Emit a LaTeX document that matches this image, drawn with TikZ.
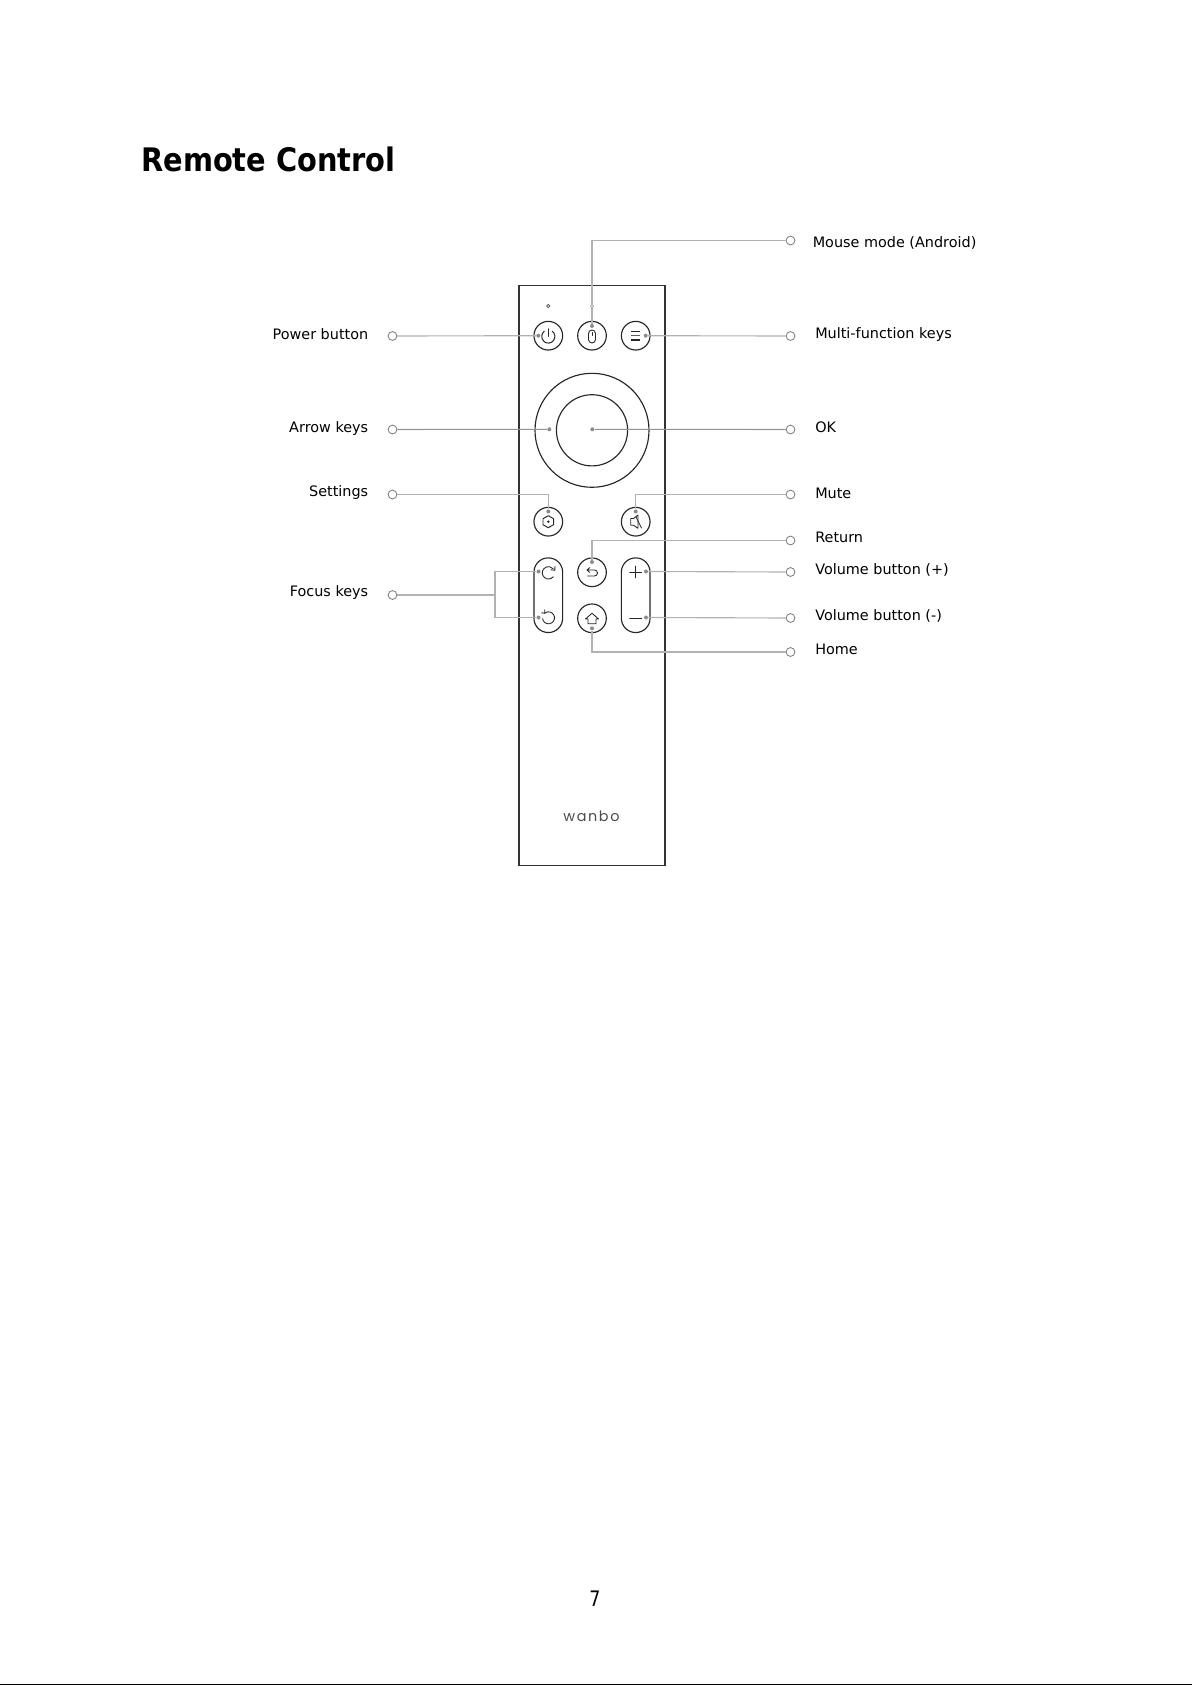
\documentclass[tikz,border=0pt]{standalone}
\usepackage{fontspec}
\usepackage{graphicx}
\setmainfont{DejaVu Sans}
\newfontfamily\logofont[LetterSpace=11]{Poppins}
\definecolor{menured}{HTML}{8A4A50}
\tikzset{
  x=0.75pt,y=-0.75pt,
  outline/.style={draw=black!85,line width=0.85pt,fill=none},
  leader/.style={draw=black!30,line width=0.85pt},
  leaderdark/.style={draw=black!42,line width=0.8pt},
  endring/.style={circle,draw=black!50,fill=white,line width=0.65pt,minimum size=6.6pt,inner sep=0pt},
  anchordot/.style={circle,fill=black!45,minimum size=3pt,inner sep=0pt},
  keybtn/.style={circle,draw=black!85,line width=0.85pt,minimum size=21.5pt,inner sep=0pt},
  icon/.style={draw=black!85,line width=0.65pt,line cap=round,line join=round},
  lbl/.style={font=\fontsize{10.8}{13}\selectfont,inner sep=0pt,text=black},
}
\begin{document}
\begin{tikzpicture}
\useasboundingbox (0,0) rectangle (1192,1685);
\fill[white] (0,0) rectangle (1192,1685);
\node[anchor=west,inner sep=0pt,font=\fontsize{24.3}{28}\selectfont\bfseries] (title) at (141,159.5) {\scalebox{0.89}[1]{Remote Control}};
% body
\node[draw=black!80,line width=1pt,minimum width=109.5pt,minimum height=435pt,inner sep=0pt,anchor=north west] (body) at (518.2,285) {};
% LEDs
\node[circle,draw=black!70,line width=0.5pt,minimum size=2.4pt,inner sep=0pt] (led) at (548.3,306) {};
\node[circle,draw=black!40,line width=0.5pt,minimum size=2.4pt,inner sep=0pt] (ledb) at (592,306) {};
% buttons
\node[keybtn] (power) at (548.3,335.7) {};
\node[keybtn] (mouse) at (592,335.7) {};
\node[keybtn] (menu) at (635.7,335.7) {};
\node[keybtn] (settings) at (548.3,521.7) {};
\node[keybtn] (mute) at (635.7,521.7) {};
\node[keybtn] (return) at (592,572.3) {};
\node[keybtn] (home) at (592,618.3) {};
\node[circle,outline,minimum size=85.5pt,inner sep=0pt] (ring) at (592,430.3) {};
\node[circle,outline,minimum size=53.4pt,inner sep=0pt] (okkey) at (592,430.3) {};
\node[outline,rounded corners=10.7pt,minimum width=21.5pt,minimum height=56pt,inner sep=0pt] (focus) at (548.3,595.2) {};
\node[outline,rounded corners=10.7pt,minimum width=21.5pt,minimum height=56pt,inner sep=0pt] (volume) at (635.7,595.2) {};
% power icon
\draw[icon,line width=0.75pt] (548.3,336.5) ++(-52:6.6) arc[start angle=-52,end angle=232,radius=6.6];
\draw[icon] (548.3,328.8) -- (548.3,336.5);
% mouse icon
\draw[icon] (588.5,333.5) arc[start angle=180,end angle=360,radius=3.5] -- (595.5,339.5) arc[start angle=0,end angle=180,radius=3.5] -- cycle;
\draw[icon,line width=0.5pt] (592,332.5) -- (592,335.5);
% menu icon
\draw[icon,line cap=butt,line width=0.9pt] (631.3,331.7) -- (640,331.7) (631.3,340) -- (640,340);
\draw[line width=0.9pt,draw=menured] (631.3,335.8) -- (640,335.8);
% settings icon
\draw[icon,line width=0.7pt] (548.3,515.7) -- (553.6,518.7) -- (553.6,524.7) -- (548.3,527.7) -- (543,524.7) -- (543,518.7) -- cycle;
\fill[black!85] (548.3,521.7) circle (1.3);
% mute icon
\draw[icon] (630.8,518.5) -- (633.5,518.5) -- (638,515) -- (638,528.3) -- (633.5,525.3) -- (630.8,525.3) -- cycle;
\draw[icon] (636,517) -- (641.5,528);
% return icon
\draw[icon] (587,570) -- (594.5,570) arc[start angle=-90,end angle=90,radius=3] -- (587.5,576) (587,570) -- (589.7,567.6) (587,570) -- (589.7,572.4);
% home icon
\draw[icon] (585.5,619) -- (592,613.2) -- (598.5,619) -- (596,619) -- (596,623.7) -- (588,623.7) -- (588,619) -- cycle;
% focus icons
\draw[icon] (548.5,572.8) ++(40:6.2) arc[start angle=40,end angle=320,radius=6.2];
\draw[icon] (555,566.3) -- (554.8,570.2) -- (551,569.8);
\draw[icon] (548.5,617.8) ++(170:6) arc[start angle=170,end angle=-130,radius=6];
\draw[icon] (541.7,612.8) -- (544.7,613.2) -- (544.7,609.8);
% volume icons
\draw[icon] (635.7,566) -- (635.7,578) (629.7,572.3) -- (641.7,572.3);
\draw[icon] (629.7,618.3) -- (641.7,618.3);
% logo
\node[font=\logofont\fontsize{10.8}{12}\selectfont,text=black!70,inner sep=0pt] (logo) at (591.5,816) {wanbo};
% label rings
\foreach \n/\x/\y in {rmouse/790.5/240.5,rmenu/790.5/336,rok/790.5/429.5,rmute/790.5/494.5,rret/790.5/540.5,rvolp/790.5/572,rvolm/790.5/618,rhome/790.5/652,
  lpower/392.5/336,larrow/392.5/429.5,lset/392.5/494.5,lfocus/392.5/595}{
  \node[endring] (\n) at (\x,\y) {};
}
% anchors
\node[anchordot] (apower) at (538.3,335.7) {};
\node[anchordot] (amouse) at (592,326) {};
\node[anchordot] (amenu) at (645.7,335.7) {};
\node[anchordot] (aarrow) at (549.3,429.3) {};
\node[anchordot] (aok) at (592.3,429.3) {};
\node[anchordot] (aset) at (548.3,511.5) {};
\node[anchordot] (amute) at (635.7,511.5) {};
\node[anchordot] (aret) at (592,562) {};
\node[anchordot] (ahome) at (592,628.3) {};
\node[anchordot] (afocp) at (538.5,571.5) {};
\node[anchordot] (afocm) at (538.5,617.5) {};
\node[anchordot] (avolp) at (646,571.5) {};
\node[anchordot] (avolm) at (646,617.5) {};
% connectors
\draw[leader] (amouse) -- (ledb) |- (rmouse);
\draw[leader] (apower) -- (lpower);
\draw[leader] (amenu) -- (rmenu);
\draw[leaderdark] (aarrow) -- (larrow);
\draw[leaderdark] (aok) -- (rok);
\draw[leader] (aset) |- (lset);
\draw[leader] (amute) |- (rmute);
\draw[leader] (aret) |- (rret);
\draw[leader] (avolp) -- (rvolp);
\draw[leader] (avolm) -- (rvolm);
\draw[leader] (ahome) |- (rhome);
\coordinate (fj) at (495,595);
\draw[leader] (lfocus) -- (fj);
\draw[leader] (afocp) -| (fj);
\draw[leader] (afocm) -| (fj);
% labels
\node[lbl,anchor=west] (tmouse) at (812.5,243) {Mouse mode (Android)};
\node[lbl,anchor=west] (tmenu) at (815,335) {Multi-function keys};
\node[lbl,anchor=west] (tok) at (815,427) {OK};
\node[lbl,anchor=west] (tmute) at (815,493.5) {Mute};
\node[lbl,anchor=west] (tret) at (815,537) {Return};
\node[lbl,anchor=west] (tvolp) at (815,570) {Volume button (+)};
\node[lbl,anchor=west] (tvolm) at (815,616) {Volume button (-)};
\node[lbl,anchor=west] (thome) at (815,649.5) {Home};
\node[lbl,anchor=east] (tpower) at (368.5,334) {Power button};
\node[lbl,anchor=east] (tarrow) at (368.5,428.5) {Arrow keys};
\node[lbl,anchor=east] (tset) at (368.5,492.5) {Settings};
\node[lbl,anchor=east] (tfocus) at (368.5,593) {Focus keys};
\node[inner sep=0pt,font=\fontsize{16}{18}\selectfont] (page) at (595,1599) {\scalebox{0.82}[1]{7}};
\draw[black,line width=1pt] (0,1684.5) -- (1192,1684.5);
\end{tikzpicture}
\end{document}
